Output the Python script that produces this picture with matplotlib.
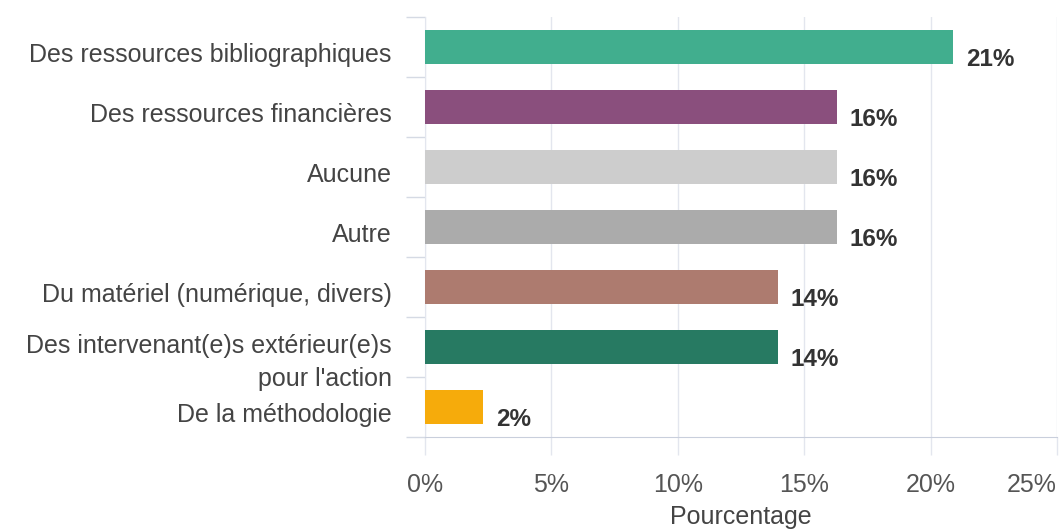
import matplotlib.pyplot as plt
import matplotlib.transforms as mtransforms

# Survey answers (share of respondents, %)
categories = [
    "Des ressources bibliographiques",
    "Des ressources financières",
    "Aucune",
    "Autre",
    "Du matériel (numérique, divers)",
    "Des intervenant(e)s extérieur(e)s\npour l'action",
    "De la méthodologie",
]
values = [20.9, 16.3, 16.3, 16.3, 13.95, 13.95, 2.3]
value_labels = ["21%", "16%", "16%", "16%", "14%", "14%", "2%"]
colors = ["#41ae8e", "#8a4f7d", "#cdcdcd", "#ababab", "#ad7b6f", "#277a62", "#f6ab0b"]
xticks = [0, 5, 10, 15, 20, 25]
xtick_labels = ["0%", "5%", "10%", "15%", "20%", "25%"]

plt.rcParams['font.family'] = ['Liberation Sans', 'DejaVu Sans']

fig = plt.figure(figsize=(10.61, 5.32), dpi=100)
ax = fig.add_axes([0.4006, 0.1786, 0.5956, 0.7895])

pos = list(range(len(categories)))
ax.barh(pos, values, height=0.57, color=colors, zorder=3)
ax.set_ylim(len(categories) - 0.5, -0.5)
ax.set_xlim(0, 25)

# value labels
for i, (v, lab) in enumerate(zip(values, value_labels)):
    ax.annotate(lab, xy=(v, i), xytext=(9, -9), textcoords='offset points',
                ha='left', va='center', fontsize=17.5, fontweight='bold',
                color='#333333')

# category labels
trans = mtransforms.blended_transform_factory(ax.transAxes, ax.transData)
for i, cat in enumerate(categories):
    if "\n" in cat:
        ax.annotate(cat, xy=(0, i), xycoords=trans, xytext=(-24, 9),
                    textcoords='offset points', ha='right', va='top',
                    fontsize=18, color='#444444', linespacing=1.45)
    else:
        ax.annotate(cat, xy=(0, i), xycoords=trans, xytext=(-24, -6),
                    textcoords='offset points', ha='right', va='center',
                    fontsize=18, color='#444444')

ax.set_yticks([])
ax.set_yticks([p - 0.5 for p in pos] + [len(pos) - 0.5], minor=True)
ax.tick_params(axis='y', which='minor', length=14, width=1, color='#d5dae4')

ax.set_xticks(xticks)
ax.set_xticklabels(xtick_labels)
ax.tick_params(axis='x', length=13, width=1, color='#e3e6ee', pad=13,
               labelsize=18, labelcolor='#555555')
ax.get_xticklabels()[-1].set_horizontalalignment('right')
ax.grid(axis='x', color='#e3e6ee', linewidth=1, zorder=0)

for s in ['top', 'right']:
    ax.spines[s].set_visible(False)
ax.spines['left'].set_color('#e3e6ee')
ax.spines['bottom'].set_color('#c9cfdc')

ax.set_xlabel('Pourcentage', fontsize=18, color='#444444', labelpad=6)

fig.savefig('out.png', dpi=100, facecolor='white')
